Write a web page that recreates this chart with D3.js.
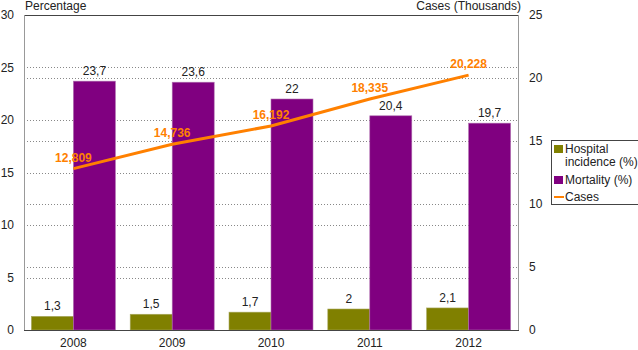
<!DOCTYPE html>
<html><head><meta charset="utf-8">
<script src="https://cdn.jsdelivr.net/npm/d3@7"></script>
<style>body{margin:0;background:#fff}svg{display:block;font-family:"Liberation Sans",Arial,sans-serif}</style>
</head><body><div id="c"></div>
<script>
const years = ["2008","2009","2010","2011","2012"];
const hospital = [1.3,1.5,1.7,2.0,2.1];
const mortality = [23.7,23.6,22.0,20.4,19.7];
const cases = [12.809,14.736,16.192,18.335,20.228];
const leftTicks = [0,5,10,15,20,25,30];
const rightTicks = [0,5,10,15,20,25];
const fmtComma = v => String(v).replace(".", ",");
const fmtCases = v => v.toFixed(3).replace(".", ",");

const W=638,H=350, L=24, R=518, T=15, B=330;
const svg=d3.select("#c").append("svg").attr("width",W).attr("height",H);
const x=d3.scaleBand().domain(years).range([L,R]);
const yL=d3.scaleLinear().domain([0,30]).range([B,T]);
const yR=d3.scaleLinear().domain([0,25]).range([B,T]);

// gridlines
const grid=svg.append("g");
leftTicks.filter(t=>t>0&&t<30).forEach(t=>grid.append("line").attr("x1",L).attr("x2",R).attr("y1",Math.round(yL(t))+0.5).attr("y2",Math.round(yL(t))+0.5).attr("stroke","#888").attr("stroke-dasharray","1,2"));
rightTicks.filter(t=>t>0&&t<25).forEach(t=>grid.append("line").attr("x1",L).attr("x2",R).attr("y1",Math.round(yR(t))+0.5).attr("y2",Math.round(yR(t))+0.5).attr("stroke","#888").attr("stroke-dasharray","1,2"));

const bw=42;
const g=svg.append("g");
years.forEach((yr,i)=>{
  const c=x(yr)+x.bandwidth()/2;
  g.append("rect").attr("x",c-bw).attr("width",bw).attr("y",yL(hospital[i])).attr("height",B-yL(hospital[i])).attr("fill","#808000").attr("stroke","#a8a860").attr("stroke-width",0.6);
  g.append("rect").attr("x",c).attr("width",bw).attr("y",yL(mortality[i])).attr("height",B-yL(mortality[i])).attr("fill","#800080").attr("stroke","#b070b0").attr("stroke-width",0.6);
  g.append("text").attr("x",c-bw/2).attr("y",yL(hospital[i])-6).attr("text-anchor","middle").attr("font-size",12).attr("fill","#222").text(fmtComma(hospital[i]));
  g.append("text").attr("x",c+bw/2).attr("y",yL(mortality[i])-6).attr("text-anchor","middle").attr("font-size",12).attr("fill","#222").text(fmtComma(mortality[i]));
});

// axes lines
svg.append("line").attr("x1",L).attr("x2",R).attr("y1",T+0.5).attr("y2",T+0.5).attr("stroke","#444");
svg.append("line").attr("x1",L+0.5).attr("x2",L+0.5).attr("y1",T).attr("y2",B).attr("stroke","#999");
svg.append("line").attr("x1",R+0.5).attr("x2",R+0.5).attr("y1",T).attr("y2",B).attr("stroke","#999");
svg.append("line").attr("x1",L).attr("x2",R+1).attr("y1",B+0.5).attr("y2",B+0.5).attr("stroke","#444");

// line
const line=d3.line().x((d,i)=>x(years[i])+x.bandwidth()/2).y(d=>yR(d));
svg.append("path").datum(cases).attr("d",line).attr("fill","none").attr("stroke","#ff8000").attr("stroke-width",3);
cases.forEach((v,i)=>{
  svg.append("text").attr("x",x(years[i])+x.bandwidth()/2).attr("y",yR(v)-7).attr("text-anchor","middle").attr("font-size",12).attr("font-weight","bold").attr("fill","#ff8000").text(fmtCases(v));
});

// tick labels
leftTicks.forEach(t=>svg.append("text").attr("x",14).attr("y",yL(t)+4).attr("text-anchor","end").attr("font-size",12).attr("fill","#222").text(t));
rightTicks.forEach(t=>svg.append("text").attr("x",529).attr("y",yR(t)+4).attr("text-anchor","start").attr("font-size",12).attr("fill","#222").text(t));
years.forEach(yr=>svg.append("text").attr("x",x(yr)+x.bandwidth()/2).attr("y",347).attr("text-anchor","middle").attr("font-size",12).attr("fill","#222").text(yr));
svg.append("text").attr("x",25).attr("y",10).attr("font-size",12).attr("fill","#222").text("Percentage");
svg.append("text").attr("x",521).attr("y",10).attr("text-anchor","end").attr("font-size",12).attr("fill","#222").text("Cases (Thousands)");

// legend
const lg=svg.append("g");
lg.append("rect").attr("x",551.5).attr("y",140.5).attr("width",90).attr("height",64).attr("fill","#fff").attr("stroke","#444");
lg.append("rect").attr("x",554).attr("y",145).attr("width",9).attr("height",8).attr("fill","#808000");
lg.append("text").attr("x",565).attr("y",153).attr("font-size",12).attr("fill","#222").text("Hospital");
lg.append("text").attr("x",565).attr("y",166).attr("font-size",12).attr("fill","#222").text("incidence (%)");
lg.append("rect").attr("x",554).attr("y",176).attr("width",9).attr("height",8).attr("fill","#800080");
lg.append("text").attr("x",565).attr("y",184).attr("font-size",12).attr("fill","#222").text("Mortality (%)");
lg.append("line").attr("x1",554).attr("x2",564).attr("y1",197).attr("y2",197).attr("stroke","#ff8000").attr("stroke-width",2);
lg.append("text").attr("x",565).attr("y",201).attr("font-size",12).attr("fill","#222").text("Cases");
</script></body></html>
